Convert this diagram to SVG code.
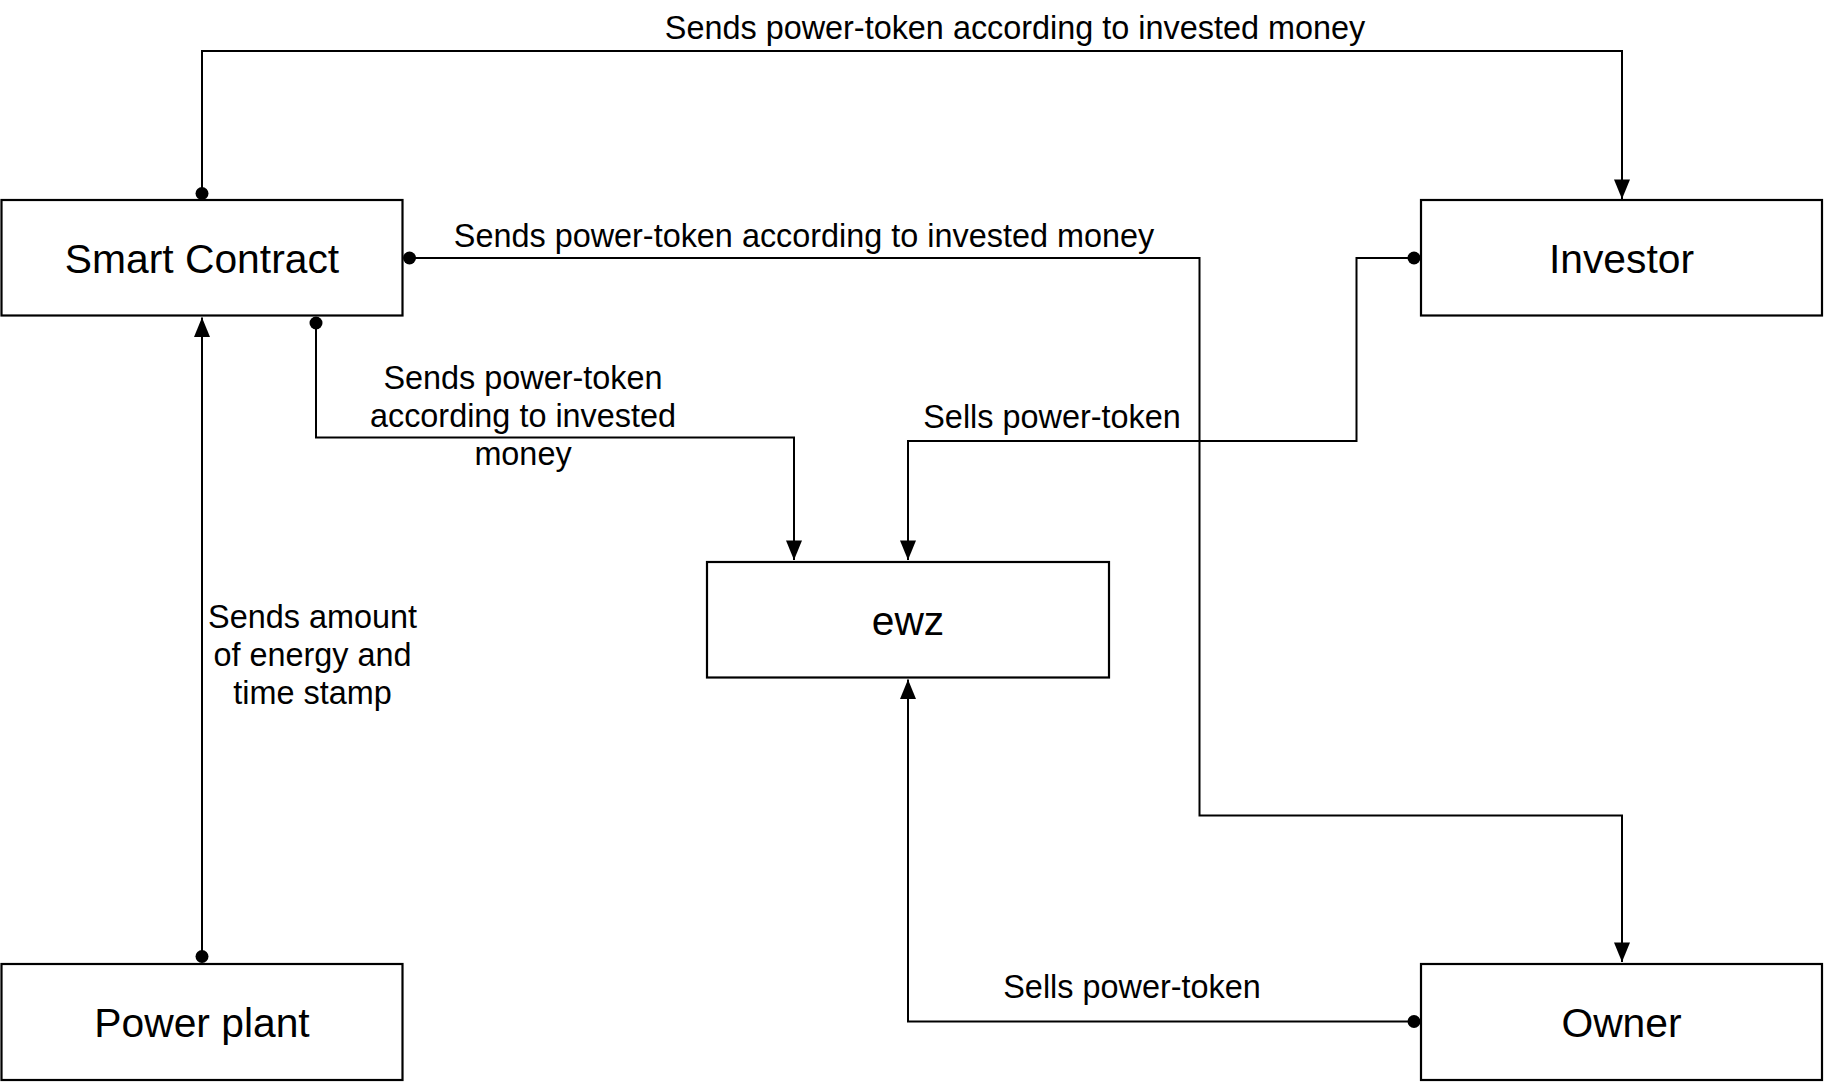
<svg xmlns="http://www.w3.org/2000/svg" width="1824" height="1082" viewBox="0 0 1824 1082">
<style>
.box{fill:#fff;stroke:#000;stroke-width:2.2}
.node{font-family:"Liberation Sans",Arial,Helvetica,sans-serif;font-size:40.8px;fill:#000;text-anchor:middle}
.lbl{font-family:"Liberation Sans",Arial,Helvetica,sans-serif;font-size:32.4px;fill:#000;text-anchor:middle}
.edge{fill:none;stroke:#000;stroke-width:2;marker-end:url(#arrow)}
.dot{fill:#000}
</style>
<defs>
<marker id="arrow" markerUnits="userSpaceOnUse" markerWidth="20" markerHeight="16" viewBox="0 0 17 14" refX="17" refY="7" orient="auto">
<path d="M0,0 L17,7 L0,14 Z" fill="#000"/>
</marker>
</defs>
<rect width="1824" height="1082" fill="#fff"/>
<g id="connectors">
<path class="edge" d="M202,193.5 V51 H1622 V199"/>
<circle class="dot" cx="202" cy="193.5" r="6.5"/>
<path class="edge" d="M409.5,258 H1199.5 V815.5 H1622 V962"/>
<circle class="dot" cx="409.5" cy="258" r="6.5"/>
<path class="edge" d="M316,323 V437.5 H794 V560"/>
<circle class="dot" cx="316" cy="323" r="6.5"/>
<path class="edge" d="M1414,258 H1356.5 V441 H908 V560"/>
<circle class="dot" cx="1414" cy="258" r="6.5"/>
<path class="edge" d="M202,956.5 V317.5"/>
<circle class="dot" cx="202" cy="956.5" r="6.5"/>
<path class="edge" d="M1414,1021.5 H908 V679.5"/>
<circle class="dot" cx="1414" cy="1021.5" r="6.5"/>
<text class="lbl" x="1015" y="38.5">Sends power-token according to invested money</text>
<text class="lbl" x="804" y="246.5">Sends power-token according to invested money</text>
<text class="lbl" x="523" y="389">Sends power-token</text>
<text class="lbl" x="523" y="427">according to invested</text>
<text class="lbl" x="523" y="465">money</text>
<text class="lbl" x="1052" y="428">Sells power-token</text>
<text class="lbl" x="312.5" y="628">Sends amount</text>
<text class="lbl" x="312.5" y="666">of energy and</text>
<text class="lbl" x="312.5" y="704">time stamp</text>
<text class="lbl" x="1132" y="998">Sells power-token</text>
</g>
<g id="smart-contract">
<rect class="box" x="1.5" y="200" width="401" height="115.5"/>
<text class="node" x="202" y="273">Smart Contract</text>
</g>
<g id="investor">
<rect class="box" x="1421" y="200" width="401" height="115.5"/>
<text class="node" x="1621.5" y="273">Investor</text>
</g>
<g id="ewz">
<rect class="box" x="707" y="562" width="402" height="115.5"/>
<text class="node" x="908" y="635">ewz</text>
</g>
<g id="power-plant">
<rect class="box" x="1.5" y="964" width="401" height="116"/>
<text class="node" x="202" y="1037">Power plant</text>
</g>
<g id="owner">
<rect class="box" x="1421" y="964" width="401" height="116"/>
<text class="node" x="1621.5" y="1037">Owner</text>
</g>
</svg>
